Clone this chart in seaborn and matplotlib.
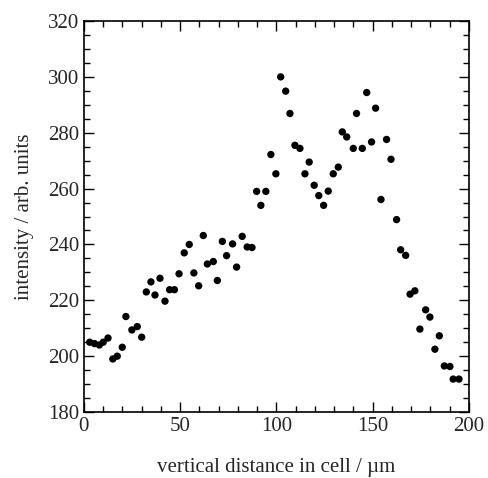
import numpy as np
import pandas as pd
import seaborn as sns
import matplotlib.pyplot as plt
from matplotlib.ticker import MultipleLocator

distance = [3, 5.5, 8, 10, 12.5, 15, 17.3, 19.9, 21.8, 24.9, 27.7, 30,
            32.4, 34.8, 36.9, 39.5, 42.1, 44.5, 47, 49.4, 52.1, 54.7, 57.1, 59.6,
            62, 64.1, 67.2, 69.3, 71.9, 74.1, 77.2, 79.3, 82.2, 84.8, 87.3, 89.7,
            91.9, 94.5, 97.1, 99.7, 102.2, 104.8, 107, 109.6, 112.2, 114.8, 117, 119.6,
            122, 124.5, 126.9, 129.5, 132.1, 134.2, 136.5, 139.9, 141.6, 144.6, 146.9, 149.4,
            151.5, 154.3, 157.2, 159.5, 162.4, 164.5, 167.1, 169.4, 171.9, 174.5, 177.5, 179.7,
            182.3, 184.6, 187.2, 190.1, 191.8, 194.8]
intensity = [205, 204.5, 204, 205, 206.5, 199, 200, 203.2, 214.2, 209.4, 210.6, 206.8,
             223, 226.6, 221.9, 227.9, 219.7, 223.8, 223.8, 229.5, 237, 240, 229.8, 225.2,
             243.2, 233, 233.9, 227.1, 241.1, 236, 240.2, 231.9, 242.9, 239.1, 238.9, 259,
             254, 259, 272.2, 265.3, 300, 294.9, 286.9, 275.5, 274.4, 265.3, 269.5, 261.2,
             257.5, 254, 259.1, 265.3, 267.7, 280.3, 278.5, 274.4, 286.9, 274.4, 294.4, 276.7,
             288.8, 256.1, 277.6, 270.5, 248.9, 238.1, 236.1, 222.2, 223.4, 209.7, 216.6, 214,
             202.5, 207.3, 196.5, 196.3, 191.8, 191.8]

df = pd.DataFrame({"distance": distance, "intensity": intensity})

sns.set_style("ticks")
plt.rcParams["font.family"] = ["Liberation Serif", "DejaVu Serif"]

fig = plt.figure(figsize=(4.88, 4.78), dpi=100)
ax = fig.add_axes([0.172, 0.138, 0.789, 0.818])
sns.scatterplot(data=df, x="distance", y="intensity", ax=ax, color="black",
                s=28, edgecolor="none")

ax.set_xlim(0, 200)
ax.set_ylim(180, 320)
ax.xaxis.set_major_locator(MultipleLocator(50))
ax.xaxis.set_minor_locator(MultipleLocator(10))
ax.yaxis.set_major_locator(MultipleLocator(20))
ax.yaxis.set_minor_locator(MultipleLocator(5))
ax.tick_params(which="both", direction="in", top=True, right=True, labelsize=15,
               color="black", width=1)
ax.tick_params(which="major", length=7)
ax.tick_params(which="minor", length=4)
for sp in ax.spines.values():
    sp.set_color("black")
    sp.set_linewidth(1.2)

ax.set_xlabel("vertical distance in cell / µm", fontsize=15, labelpad=16)
ax.set_ylabel("intensity / arb. units", fontsize=15, labelpad=10)

fig.savefig("out.png", dpi=100)
